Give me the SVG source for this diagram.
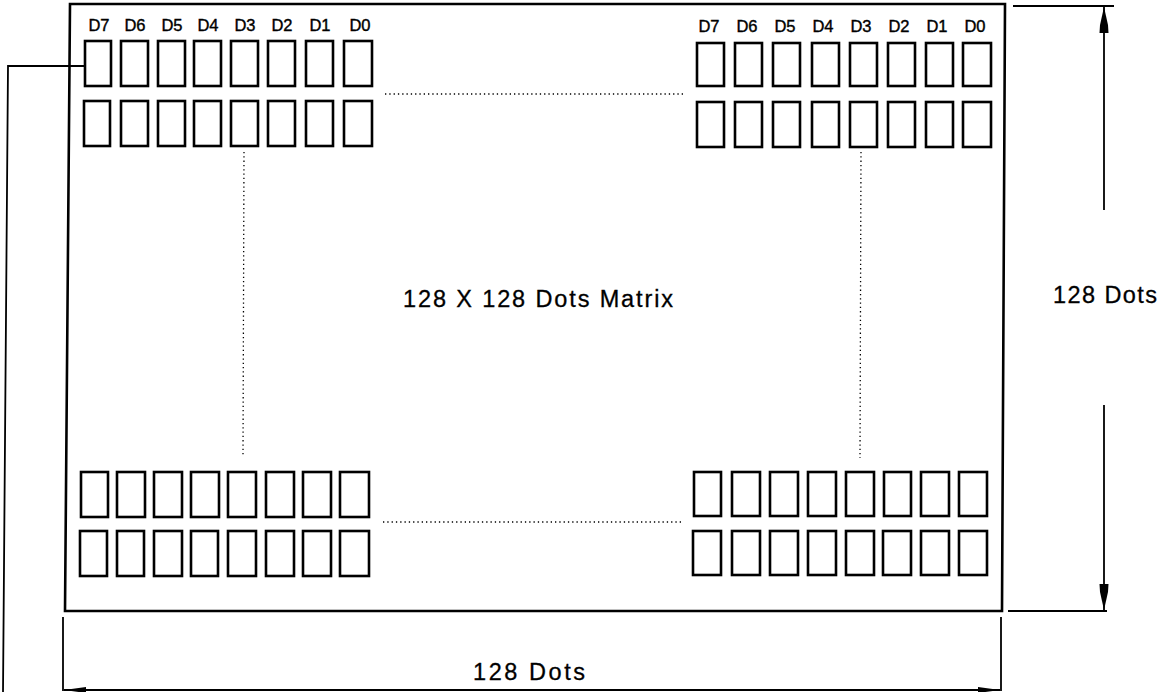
<svg xmlns="http://www.w3.org/2000/svg" width="1159" height="692" viewBox="0 0 1159 692">
<style>
.frame{fill:none;stroke:#000;stroke-width:2.6}
.cell{fill:none;stroke:#000;stroke-width:2.6}
.dim{fill:none;stroke:#000;stroke-width:1.8}
.dot{fill:none;stroke:#000;stroke-width:1.3;stroke-dasharray:1.3 3}
.lbl{font-family:"Liberation Sans",Arial,sans-serif;font-size:16.5px;fill:#000;stroke:#000;stroke-width:0.4;text-anchor:middle}
.txt{font-family:"Liberation Sans",Arial,sans-serif;font-size:23.5px;fill:#000;stroke:#000;stroke-width:0.3}
</style>
<defs>
<marker id="arrV" markerUnits="userSpaceOnUse" markerWidth="28" markerHeight="12" refX="26" refY="5.5" orient="auto" viewBox="0 0 28 12">
<path d="M0,1 L8,1.5 L26,5.5 L8,9.5 L0,10 Z" fill="#000"/>
</marker>
<marker id="arrH" markerUnits="userSpaceOnUse" markerWidth="24" markerHeight="8" refX="22" refY="3.5" orient="auto-start-reverse" viewBox="0 0 24 8">
<path d="M0,0.5 L22,3.5 L0,6.5 Z" fill="#000"/>
</marker>
</defs>
<rect width="1159" height="692" fill="#fff"/>

<g id="display">
<path class="frame" d="M70,4 L1005,4 L1002,611 L65,611 Z"/>
<text class="txt" x="403" y="307" textLength="270" lengthAdjust="spacing">128 X 128 Dots Matrix</text>
</g>

<g id="cells-top-left">
<rect class="cell" x="85" y="41" width="26" height="45"/>
<rect class="cell" x="121" y="41" width="27" height="45"/>
<rect class="cell" x="158" y="41" width="27" height="45"/>
<rect class="cell" x="194" y="41" width="27" height="45"/>
<rect class="cell" x="231" y="41" width="27" height="45"/>
<rect class="cell" x="268" y="41" width="27" height="45"/>
<rect class="cell" x="306" y="41" width="27" height="45"/>
<rect class="cell" x="344" y="41" width="28" height="45"/>
<rect class="cell" x="84" y="101" width="26" height="45"/>
<rect class="cell" x="121" y="101" width="27" height="45"/>
<rect class="cell" x="158" y="101" width="27" height="45"/>
<rect class="cell" x="194" y="101" width="27" height="45"/>
<rect class="cell" x="231" y="101" width="27" height="45"/>
<rect class="cell" x="268" y="101" width="27" height="45"/>
<rect class="cell" x="306" y="101" width="27" height="45"/>
<rect class="cell" x="344" y="101" width="28" height="45"/>
<text class="lbl" x="99" y="31">D7</text>
<text class="lbl" x="135" y="31">D6</text>
<text class="lbl" x="172" y="31">D5</text>
<text class="lbl" x="208" y="31">D4</text>
<text class="lbl" x="245" y="31">D3</text>
<text class="lbl" x="282" y="31">D2</text>
<text class="lbl" x="320" y="31">D1</text>
<text class="lbl" x="360" y="31">D0</text>
</g>

<g id="cells-top-right">
<rect class="cell" x="697" y="43" width="27" height="43"/>
<rect class="cell" x="735" y="43" width="27" height="43"/>
<rect class="cell" x="773" y="43" width="27" height="43"/>
<rect class="cell" x="812" y="43" width="27" height="43"/>
<rect class="cell" x="850" y="43" width="27" height="43"/>
<rect class="cell" x="888" y="43" width="27" height="43"/>
<rect class="cell" x="926" y="43" width="27" height="43"/>
<rect class="cell" x="963" y="43" width="28" height="43"/>
<rect class="cell" x="697" y="102" width="27" height="45"/>
<rect class="cell" x="735" y="102" width="27" height="45"/>
<rect class="cell" x="773" y="102" width="27" height="45"/>
<rect class="cell" x="812" y="102" width="27" height="45"/>
<rect class="cell" x="850" y="102" width="27" height="45"/>
<rect class="cell" x="888" y="102" width="27" height="45"/>
<rect class="cell" x="926" y="102" width="27" height="45"/>
<rect class="cell" x="963" y="102" width="28" height="45"/>
<text class="lbl" x="709" y="32">D7</text>
<text class="lbl" x="747" y="32">D6</text>
<text class="lbl" x="785" y="32">D5</text>
<text class="lbl" x="823" y="32">D4</text>
<text class="lbl" x="861" y="32">D3</text>
<text class="lbl" x="899" y="32">D2</text>
<text class="lbl" x="937" y="32">D1</text>
<text class="lbl" x="975" y="32">D0</text>
</g>

<g id="cells-bottom-left">
<rect class="cell" x="81" y="472" width="27" height="45"/>
<rect class="cell" x="117" y="472" width="28" height="45"/>
<rect class="cell" x="154" y="472" width="28" height="45"/>
<rect class="cell" x="191" y="472" width="28" height="45"/>
<rect class="cell" x="228" y="472" width="28" height="45"/>
<rect class="cell" x="266" y="472" width="28" height="45"/>
<rect class="cell" x="303" y="472" width="28" height="45"/>
<rect class="cell" x="340" y="472" width="29" height="45"/>
<rect class="cell" x="80" y="531" width="27" height="45"/>
<rect class="cell" x="117" y="531" width="27" height="45"/>
<rect class="cell" x="154" y="531" width="28" height="45"/>
<rect class="cell" x="191" y="531" width="27" height="45"/>
<rect class="cell" x="228" y="531" width="28" height="45"/>
<rect class="cell" x="266" y="531" width="28" height="45"/>
<rect class="cell" x="303" y="531" width="28" height="45"/>
<rect class="cell" x="340" y="531" width="29" height="45"/>
</g>

<g id="cells-bottom-right">
<rect class="cell" x="694" y="472" width="27" height="44"/>
<rect class="cell" x="732" y="472" width="28" height="44"/>
<rect class="cell" x="770" y="472" width="28" height="44"/>
<rect class="cell" x="808" y="472" width="28" height="44"/>
<rect class="cell" x="846" y="472" width="28" height="44"/>
<rect class="cell" x="884" y="472" width="27" height="44"/>
<rect class="cell" x="921" y="472" width="28" height="44"/>
<rect class="cell" x="959" y="472" width="28" height="44"/>
<rect class="cell" x="693" y="531" width="28" height="44"/>
<rect class="cell" x="732" y="531" width="28" height="44"/>
<rect class="cell" x="770" y="531" width="28" height="44"/>
<rect class="cell" x="808" y="531" width="28" height="44"/>
<rect class="cell" x="846" y="531" width="28" height="44"/>
<rect class="cell" x="883" y="531" width="28" height="44"/>
<rect class="cell" x="921" y="531" width="28" height="44"/>
<rect class="cell" x="959" y="531" width="28" height="44"/>
</g>

<g id="connectors">
<line class="dot" x1="385" y1="94" x2="684" y2="94"/>
<line class="dot" x1="383" y1="522" x2="681" y2="522"/>
<line class="dot" x1="244" y1="152" x2="243" y2="457"/>
<line class="dot" x1="861" y1="152" x2="860" y2="458"/>
<polyline class="dim" points="84,66 8,66 3,692"/>
<line class="dim" x1="1013" y1="6" x2="1114" y2="6"/>
<line class="dim" x1="1008" y1="611" x2="1107" y2="611"/>
<line class="dim" x1="1104" y1="210" x2="1104" y2="7" marker-end="url(#arrV)"/>
<line class="dim" x1="1104" y1="405" x2="1104" y2="610" marker-end="url(#arrV)"/>
<line class="dim" x1="63" y1="617" x2="63" y2="691"/>
<line class="dim" x1="1001" y1="617" x2="1001" y2="691"/>
<line class="dim" x1="64" y1="690" x2="1000" y2="690" marker-start="url(#arrH)" marker-end="url(#arrH)"/>
</g>

<g id="dim-labels">
<text class="txt" x="1053" y="303" textLength="104" lengthAdjust="spacing">128 Dots</text>
<text class="txt" x="473" y="680" textLength="112" lengthAdjust="spacing">128 Dots</text>
</g>
</svg>
